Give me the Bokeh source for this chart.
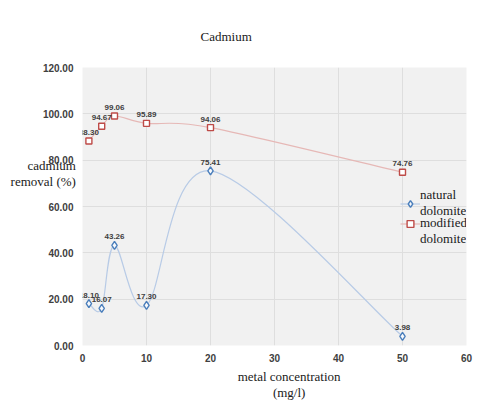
from bokeh.plotting import figure
from bokeh.models import Range1d, FixedTicker, CustomJSTickFormatter, Legend, LegendItem, Title
from bokeh.core.properties import value
from bokeh.embed import file_html
from bokeh.resources import INLINE

# data
conc = [1, 3, 5, 10, 20, 50]
natural = [18.10, 16.07, 43.26, 17.30, 75.41, 3.98]
modified = [88.30, 94.67, 99.06, 95.89, 94.06, 74.76]
natural_labels = ["18.10", "16.07", "43.26", "17.30", "75.41", "3.98"]
modified_labels = ["88.30", "94.67", "99.06", "95.89", "94.06", "74.76"]
x_ticks = [0, 10, 20, 30, 40, 50, 60]
y_ticks = [0, 20, 40, 60, 80, 100, 120]

BLUE = "#4a7ebb"
RED = "#be4b48"
BLUE_LINE = "#b8cbe6"
RED_LINE = "#e6b8b6"
SERIF = "Liberation Serif"
SANS = "Liberation Sans"
NB = "\u00a0"

p = figure(width=478, height=403, output_backend="svg", toolbar_location=None,
           x_range=Range1d(0, 60), y_range=Range1d(0, 120),
           min_border_left=82, min_border_right=12, min_border_top=67, min_border_bottom=56)
p.background_fill_color = "#f1f1f1"
p.border_fill_color = "white"
p.outline_line_color = None

p.title = Title(text="Cadmium", align="left", offset=118, standoff=47,
                text_font=SERIF, text_font_size="13px", text_font_style="normal", text_color="#1a1a1a")

for ax in (p.xaxis, p.yaxis):
    ax.axis_line_color = None
    ax.major_tick_line_color = None
    ax.minor_tick_line_color = None
    ax.major_tick_out = 0
    ax.major_tick_in = 0
    ax.major_label_text_font = SANS
    ax.major_label_text_font_style = "bold"
    ax.major_label_text_font_size = "10px"
    ax.major_label_text_color = "#404040"
    ax.axis_label_text_font = SERIF
    ax.axis_label_text_font_size = "13px"
    ax.axis_label_text_font_style = "normal"
    ax.axis_label_text_color = "#1a1a1a"
    ax.axis_label_text_align = "left"
    ax.axis_label_text_line_height = 1.1
p.xaxis.ticker = FixedTicker(ticks=x_ticks)
p.yaxis.ticker = FixedTicker(ticks=y_ticks)
p.yaxis.formatter = CustomJSTickFormatter(code="return tick.toFixed(2);")
p.yaxis.major_label_standoff = 9
p.xaxis.major_label_standoff = 8

p.yaxis.axis_label = "cadmium\nremoval (%)\n" + NB + "\n" + NB + "\n" + NB + "\n" + NB
p.yaxis.axis_label_orientation = "horizontal"
p.yaxis.axis_label_standoff = -36
pad = NB * 9
p.xaxis.axis_label = pad + "metal concentration\n" + pad + "(mg/l)"
p.xaxis.axis_label_standoff = 4

p.grid.grid_line_color = "#dedede"
p.xgrid.ticker = FixedTicker(ticks=x_ticks)
p.ygrid.ticker = FixedTicker(ticks=y_ticks)


def smooth(xs, ys):
    n = len(xs)
    d = dict(x0=[], y0=[], x1=[], y1=[], cx0=[], cy0=[], cx1=[], cy1=[])
    for i in range(n - 1):
        pxm = xs[i - 1] if i > 0 else xs[i]
        pym = ys[i - 1] if i > 0 else ys[i]
        pxp = xs[i + 2] if i + 2 < n else xs[i + 1]
        pyp = ys[i + 2] if i + 2 < n else ys[i + 1]
        d["x0"].append(xs[i]); d["y0"].append(ys[i]); d["x1"].append(xs[i + 1]); d["y1"].append(ys[i + 1])
        d["cx0"].append(xs[i] + (xs[i + 1] - pxm) / 6); d["cy0"].append(ys[i] + (ys[i + 1] - pym) / 6)
        d["cx1"].append(xs[i + 1] - (pxp - xs[i]) / 6); d["cy1"].append(ys[i + 1] - (pyp - ys[i]) / 6)
    return d


bn = p.bezier(source=smooth(conc, natural), x0="x0", y0="y0", x1="x1", y1="y1",
              cx0="cx0", cy0="cy0", cx1="cx1", cy1="cy1", line_color=BLUE_LINE, line_width=1.2)
bm = p.bezier(source=smooth(conc, modified), x0="x0", y0="y0", x1="x1", y1="y1",
              cx0="cx0", cy0="cy0", cx1="cx1", cy1="cy1", line_color=RED_LINE, line_width=1.2)

sn = p.scatter(conc, natural, marker="diamond", size=8, fill_color="#f7f9fc", line_color=BLUE, line_width=1.4)
sm = p.scatter(conc, modified, marker="square", size=6, fill_color="white", line_color=RED, line_width=1.4)

lbl = dict(text_font=value(SANS), text_font_style="bold", text_font_size="8px", text_color="#404040",
           text_baseline="bottom", y_offset=-6, text_align="center")
p.text(conc, natural, text=natural_labels, **lbl)
p.text(conc, modified, text=modified_labels, **lbl)

leg_style = dict(orientation="vertical", background_fill_alpha=0, border_line_color=None,
                 padding=0, margin=0, glyph_width=20, glyph_height=17, label_standoff=0,
                 label_text_font=SERIF, label_text_font_size="13px", label_text_color="#1a1a1a")
p.add_layout(Legend(items=[LegendItem(label="natural\ndolomite", renderers=[bn, sn])],
                    location=(318, 126), label_text_line_height=1.23, **leg_style))
p.add_layout(Legend(items=[LegendItem(label=NB + "\nmodified\ndolomite", renderers=[bm, sm])],
                    location=(318, 98), label_text_line_height=1.45, **leg_style))

open("out.html", "w").write(file_html(p, INLINE))
